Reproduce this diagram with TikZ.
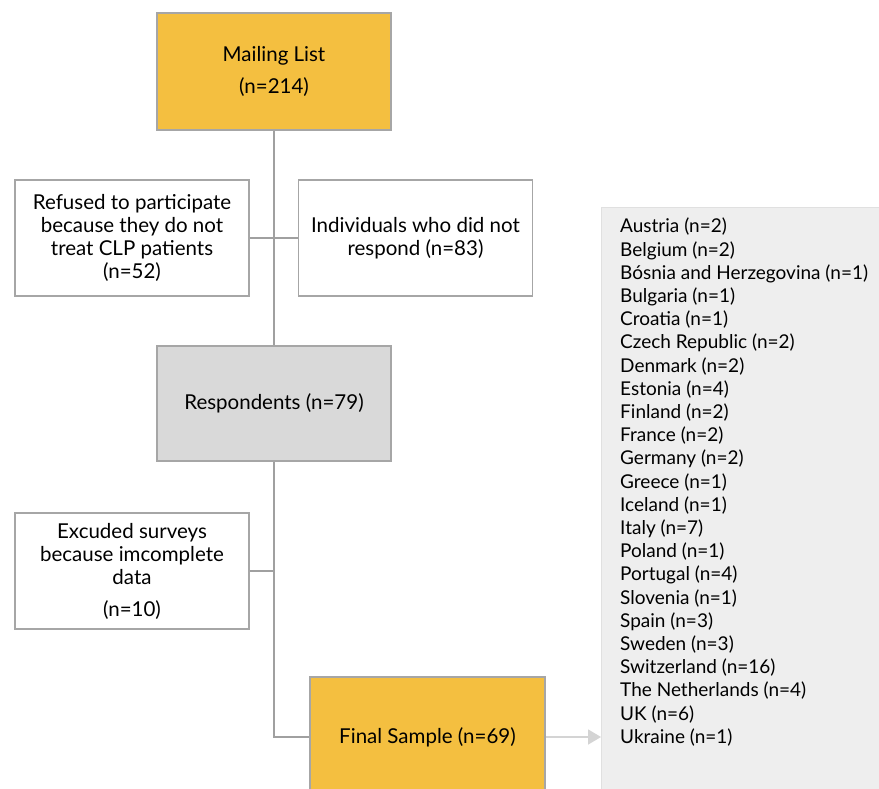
\documentclass[tikz,border=0pt]{standalone}
\usepackage{fontspec}
\setmainfont{Lato}
\usetikzlibrary{arrows.meta}
\definecolor{gold}{HTML}{F4BF40}
\definecolor{boxgray}{HTML}{D9D9D9}
\definecolor{panelgray}{HTML}{EEEEEE}
\definecolor{edgegray}{HTML}{A6A6A6}
\definecolor{linegray}{HTML}{A0A0A0}
\definecolor{arrowgray}{HTML}{D4D4D4}
\begin{document}
\begin{tikzpicture}[x=1pt,y=-1pt,
  box/.style={rectangle, draw=edgegray, line width=1.5pt, minimum width=234pt, minimum height=116pt,
    align=center, inner sep=4pt, font=\fontsize{20.5}{23}\selectfont, text=black},
  conn/.style={draw=linegray, line width=1.5pt}]
\useasboundingbox (0,0) rectangle (879,789);
\clip (0,0) rectangle (879,789);
\fill[white] (0,0) rectangle (879,789);
% panel
\node[rectangle, draw=black!12, fill=panelgray, line width=1pt, anchor=north west,
  minimum width=290pt, minimum height=600pt] (panel) at (601,207) {};
\node[anchor=north west, align=left, inner sep=0pt, font=\fontsize{19}{23.2}\selectfont] (list) at (620,218) {%
Austria (n=2)\\
Belgium (n=2)\\
Bósnia and Herzegovina (n=1)\\
Bulgaria (n=1)\\
Croatia (n=1)\\
Czech Republic (n=2)\\
Denmark (n=2)\\
Estonia (n=4)\\
Finland (n=2)\\
France (n=2)\\
Germany (n=2)\\
Greece (n=1)\\
Iceland (n=1)\\
Italy (n=7)\\
Poland (n=1)\\
Portugal (n=4)\\
Slovenia (n=1)\\
Spain (n=3)\\
Sweden (n=3)\\
Switzerland (n=16)\\
The Netherlands (n=4)\\
UK (n=6)\\
Ukraine (n=1)};
% boxes
\node[box, fill=gold, minimum height=117pt] (mail) at (274,71.5) {Mailing List\\[9pt](n=214)};
\node[box] (refused) at (132,238) {Refused to participate\\because they do not\\treat CLP patients\\(n=52)};
\node[box] (nonresp) at (415.5,238) {Individuals who did not\\respond (n=83)};
\node[box, fill=boxgray, minimum height=115pt] (resp) at (274,403.5) {Respondents (n=79)};
\node[box] (excl) at (132,571) {Excuded surveys\\because imcomplete\\data\\[9pt](n=10)};
\node[box, fill=gold, minimum width=235pt, minimum height=120pt] (final) at (427.5,737) {Final Sample (n=69)};
% connectors
\coordinate (jx) at (274,571);
\draw[conn] (mail.south) -- (resp.north);
\draw[conn] (refused.east) -- (nonresp.west);
\draw[conn] (resp.south) |- (final.west);
\draw[conn] (excl.east) -- (jx);
\draw[draw=arrowgray, line width=1.5pt, -{Triangle[length=13pt,width=15pt]}, fill=arrowgray] (final.east) -- (panel.west |- final.east);
\end{tikzpicture}
\end{document}
